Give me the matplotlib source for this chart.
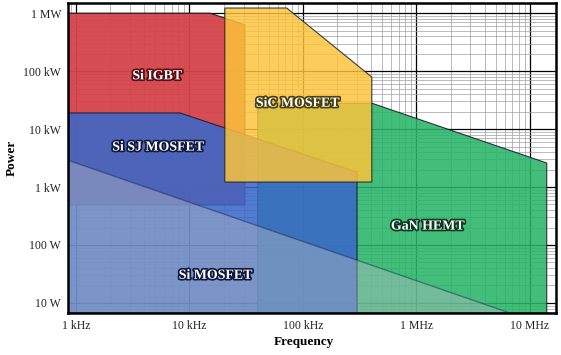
import matplotlib
matplotlib.use("Agg")
import matplotlib.pyplot as plt
import matplotlib.patheffects as pe
from matplotlib.ticker import FixedLocator, LogLocator, NullFormatter

plt.rcParams['font.family'] = ['Liberation Serif', 'DejaVu Serif']

F_MIN, F_MAX = 850, 1.7e7
P_MIN, P_MAX = 6.7, 1.5e6

# region outlines, (frequency in Hz, power in W)
si_igbt_f = [F_MIN, 15.2e3, 30.8e3, 30.8e3, F_MIN]
si_igbt_p = [1e6, 1e6, 6.3e5, 490, 490]

si_sj_f = [F_MIN, 8.25e3, 300e3, 300e3, F_MIN]
si_sj_p = [19e3, 19e3, 1.8e3, P_MIN, P_MIN]

gan_f = [40e3, 405e3, 14.1e6, 14.1e6, 40e3]
gan_p = [28e3, 28e3, 2.6e3, P_MIN, P_MIN]

sic_f = [20.5e3, 72e3, 405e3, 405e3, 20.5e3]
sic_p = [1.23e6, 1.23e6, 79e3, 1.22e3, 1.22e3]

si_mos_f = [F_MIN, 6.67e6, F_MIN]
si_mos_p = [2.9e3, P_MIN, P_MIN]

x_ticks = [1e3, 1e4, 1e5, 1e6, 1e7]
x_tick_labels = ["1 kHz", "10 kHz", "100 kHz", "1 MHz", "10 MHz"]
y_ticks = [10, 100, 1e3, 1e4, 1e5, 1e6]
y_tick_labels = ["10 W", "100 W", "1 kW", "10 kW", "100 kW", "1 MW"]

# name, x, y of the label, text outline colour
labels = [
    ("Si IGBT", 5.2e3, 83e3, "#5a1015"),
    ("SiC MOSFET", 90e3, 28e3, "#4a4010"),
    ("Si SJ MOSFET", 5.3e3, 4.9e3, "#101a40"),
    ("GaN HEMT", 1.26e6, 212, "#0c3a20"),
    ("Si MOSFET", 17e3, 30, "#101a40"),
]

fig = plt.figure(figsize=(5.61, 3.55), dpi=100)
ax = fig.add_axes([0.1212, 0.1183, 0.8698, 0.8732])
ax.set_xscale('log')
ax.set_yscale('log')
ax.set_xlim(F_MIN, F_MAX)
ax.set_ylim(P_MIN, P_MAX)

ax.set_axisbelow(True)
ax.xaxis.set_major_locator(FixedLocator(x_ticks))
ax.yaxis.set_major_locator(FixedLocator(y_ticks))
ax.xaxis.set_minor_locator(LogLocator(base=10, subs=range(2, 10), numticks=20))
ax.yaxis.set_minor_locator(LogLocator(base=10, subs=range(2, 10), numticks=20))
ax.xaxis.set_minor_formatter(NullFormatter())
ax.yaxis.set_minor_formatter(NullFormatter())
ax.set_xticklabels(x_tick_labels)
ax.set_yticklabels(y_tick_labels)
ax.grid(which='major', color='black', linewidth=0.9)
ax.grid(which='minor', color='#a0a0a0', linewidth=0.5)
ax.tick_params(which='both', length=0, labelsize=8.5, colors='#222222')
ax.tick_params(axis='y', pad=5)
ax.tick_params(axis='x', pad=5)

edge = dict(edgecolor='#1a1a2a', linewidth=0.8)
ax.fill(si_igbt_f, si_igbt_p, color='#d4434a', alpha=0.95, **edge)
ax.fill(gan_f, gan_p, color='#28b468', alpha=0.88, **edge)
ax.fill(si_sj_f, si_sj_p, color='#3a68c8', alpha=0.88, **edge)
ax.fill(sic_f, sic_p, color='#fcc43a', alpha=0.84, **edge)
ax.fill(si_mos_f, si_mos_p, color='#b8bcc4', alpha=0.42, edgecolor='#101a40', linewidth=1.0)

for name, fx, py, dark in labels:
    ax.text(fx, py, name, ha='center', va='center', color='white',
            fontsize=10, fontweight='bold',
            path_effects=[pe.withStroke(linewidth=2.5, foreground=dark)])

for s in ax.spines.values():
    s.set_linewidth(1.8)

ax.set_xlabel("Frequency", fontsize=9.5, fontweight='bold')
ax.set_ylabel("Power", fontsize=9.5, fontweight='bold')
ax.xaxis.set_label_coords(0.484, -0.074)
ax.yaxis.set_label_coords(-0.104, 0.5)

fig.savefig("out.png", dpi=100)
